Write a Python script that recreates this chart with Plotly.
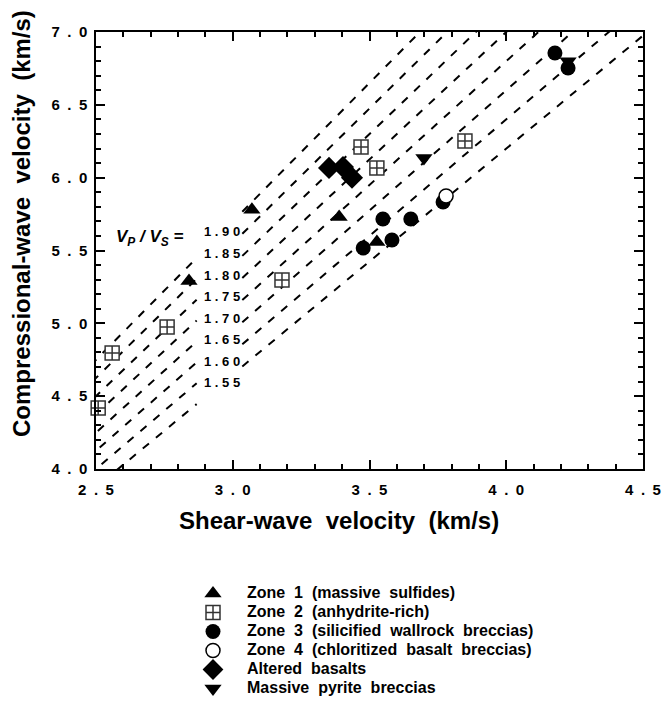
import numpy as np
import plotly.graph_objects as go

# ---- measured velocities (km/s) ----
z1_vs = [2.840, 3.070, 3.389, 3.527]
z1_vp = [5.290, 5.780, 5.730, 5.559]

z2_vs = [2.508, 2.559, 2.760, 3.180, 3.469, 3.527, 3.849]
z2_vp = [4.419, 4.797, 4.975, 5.298, 6.210, 6.067, 6.252]

z3_vs = [3.477, 3.549, 3.582, 3.651, 3.769, 4.178, 4.226]
z3_vp = [5.517, 5.716, 5.572, 5.716, 5.833, 6.856, 6.753]

z4_vs = [3.780]
z4_vp = [5.874]

basalt_vs = [3.352, 3.403, 3.436]
basalt_vp = [6.067, 6.073, 6.000]

pyrite_vs = [3.699, 4.226]
pyrite_vp = [6.135, 6.800]

# constant Vp/Vs reference lines
ratios = [1.90, 1.85, 1.80, 1.75, 1.70, 1.65, 1.60, 1.55]
ratio_label_vs = 2.962          # labels sit on each line at this Vs
gap_lo, gap_hi = 2.868, 3.035   # lines are broken around their labels

x_ticks = [2.5, 3.0, 3.5, 4.0, 4.5]
y_ticks = [4.0, 4.5, 5.0, 5.5, 6.0, 6.5, 7.0]

FONT = "Liberation Sans, Arial, Helvetica, sans-serif"


def spaced(v, sep):
    return "<b>" + sep.join(f"{v:.1f}") + "</b>"


def legend_label(s):
    return f'<span style="font-size:16px">{s}</span>'


fig = go.Figure()

for r in ratios:
    xs = np.array([2.0, gap_lo, np.nan, gap_hi, 4.7])
    fig.add_trace(go.Scatter(
        x=xs, y=r * xs, mode="lines", connectgaps=False,
        line=dict(color="black", width=2, dash="8px,9px"),
        showlegend=False, hoverinfo="skip"))

# drawing order (later traces on top); legend order set by legendrank
fig.add_trace(go.Scatter(
    x=z1_vs, y=z1_vp, mode="markers",
    name=legend_label("Zone  1  (massive  sulfides)"),
    legendrank=1, cliponaxis=False,
    marker=dict(symbol="triangle-up", size=15, color="black")))
fig.add_trace(go.Scatter(
    x=pyrite_vs, y=pyrite_vp, mode="markers",
    name=legend_label("Massive  pyrite  breccias"),
    legendrank=6, cliponaxis=False,
    marker=dict(symbol="triangle-down", size=15, color="black")))
fig.add_trace(go.Scatter(
    x=z2_vs, y=z2_vp, mode="markers",
    name=legend_label("Zone  2  (anhydrite-rich)"),
    legendrank=2, cliponaxis=False,
    marker=dict(symbol="square-cross", size=14, color="white",
                line=dict(color="#333333", width=1.5))))
fig.add_trace(go.Scatter(
    x=basalt_vs, y=basalt_vp, mode="markers",
    name=legend_label("Altered  basalts"),
    legendrank=5, cliponaxis=False,
    marker=dict(symbol="diamond", size=17, color="black")))
fig.add_trace(go.Scatter(
    x=z3_vs, y=z3_vp, mode="markers",
    name=legend_label("Zone  3  (silicified  wallrock  breccias)"),
    legendrank=3, cliponaxis=False,
    marker=dict(symbol="circle", size=15, color="black")))
fig.add_trace(go.Scatter(
    x=z4_vs, y=z4_vp, mode="markers",
    name=legend_label("Zone  4  (chloritized  basalt  breccias)"),
    legendrank=4, cliponaxis=False,
    marker=dict(symbol="circle", size=14, color="white",
                line=dict(color="black", width=1.5))))

# ratio labels
for r in ratios:
    fig.add_annotation(
        x=ratio_label_vs, y=r * ratio_label_vs, xref="x", yref="y",
        text=" ".join(f"{r:.2f}"), showarrow=False,
        font=dict(family=FONT, size=13, color="black", weight="bold"))

fig.add_annotation(
    x=2.697, y=5.586, xref="x", yref="y",
    text="<b><i>V<sub>P</sub> / V<sub>S</sub> =</i></b>", showarrow=False,
    font=dict(family=FONT, size=17, color="black"))

# axis titles
fig.add_annotation(
    x=0.444, y=-0.118, xref="paper", yref="paper",
    xanchor="center", yanchor="middle",
    text="Shear-wave  velocity  (km/s)", showarrow=False,
    font=dict(family=FONT, size=24, color="black", weight="bold"))
fig.add_annotation(
    x=-0.135, y=0.561, xref="paper", yref="paper",
    xanchor="center", yanchor="middle", textangle=-90,
    text="Compressional-wave  velocity  (km/s)", showarrow=False,
    font=dict(family=FONT, size=24, color="black", weight="bold"))

axis_common = dict(
    ticks="inside", ticklen=9, tickwidth=1.5, tickcolor="black",
    showline=True, linewidth=1.5, linecolor="black", mirror="allticks",
    showgrid=False, zeroline=False,
    tickfont=dict(family=FONT, size=15, color="black", weight="bold"),
)

fig.update_xaxes(
    range=[2.5, 4.5], tickmode="array", tickvals=x_ticks,
    ticktext=[spaced(v, "\u2002") for v in x_ticks], ticklabelstandoff=6,
    minor=dict(tickmode="linear", tick0=2.5, dtick=0.1, ticks="inside",
               ticklen=5, tickwidth=1.5, tickcolor="black", showgrid=False),
    **axis_common)
fig.update_yaxes(
    range=[4.0, 7.0], tickmode="array", tickvals=y_ticks,
    ticktext=[spaced(v, "\u2002") for v in y_ticks], ticklabelstandoff=4,
    minor=dict(tickmode="linear", tick0=4.0, dtick=0.1, ticks="inside",
               ticklen=5, tickwidth=1.5, tickcolor="black", showgrid=False),
    **axis_common)

fig.update_layout(
    width=665, height=702,
    margin=dict(l=96, r=22, t=32, b=233, autoexpand=False),
    plot_bgcolor="white", paper_bgcolor="white",
    font=dict(family=FONT, color="black"),
    legend=dict(
        x=(179 - 96) / 547, y=(469 - 579) / 437, xanchor="left", yanchor="top",
        font=dict(family=FONT, size=12, color="black", weight="bold"),
        bgcolor="rgba(0,0,0,0)", borderwidth=0, itemwidth=58,
        traceorder="normal"),
    hovermode=False,
)

fig.write_html("out.html")
